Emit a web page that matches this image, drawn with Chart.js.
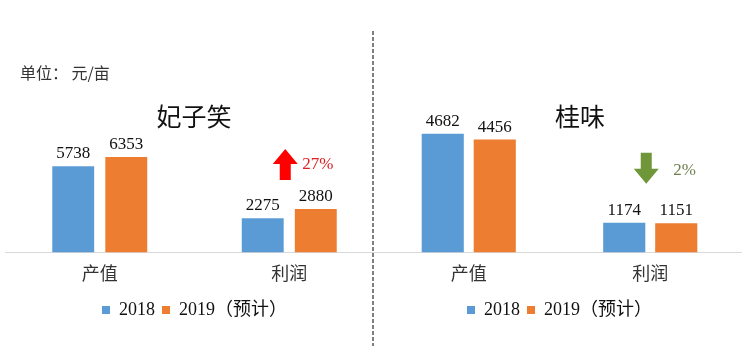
<!DOCTYPE html>
<html>
<head>
<meta charset="utf-8">
<script src="https://cdn.jsdelivr.net/npm/chart.js@4.4.1/dist/chart.umd.min.js"></script>
<style>
  body { margin: 0; background: #fff; }
  #wrap { position: relative; width: 750px; height: 359px; overflow: hidden; font-family: "Noto Sans CJK SC", sans-serif; }
  #leftBox { position: absolute; left: 0; top: 0; width: 390px; height: 359px; }
  #rightBox { position: absolute; left: 374px; top: 0; width: 376px; height: 359px; }
  .unit { position: absolute; left: 20px; top: 60px; font-size: 16px; color: #333; }
  .title { position: absolute; top: 97px; font-size: 25px; color: #111; transform: translateX(-50%); white-space: nowrap; }
  svg.divider { position: absolute; left: 0; top: 0; }
</style>
</head>
<body>
<div id="wrap">
  <div id="leftBox"><canvas id="chartLeft"></canvas></div>
  <div id="rightBox"><canvas id="chartRight"></canvas></div>
  <div class="unit">单位：&nbsp;元/亩</div>
  <div class="title" style="left:194px">妃子笑</div>
  <div class="title" style="left:580px">桂味</div>
  <svg class="divider" width="750" height="359">
    <line x1="373" y1="31" x2="373" y2="346" stroke="#7f7f7f" stroke-width="2" stroke-dasharray="4 2"/>
  </svg>
</div>
<script>
const categories = ['产值', '利润'];
const seriesNames = ['2018', '2019（预计）'];
const fzx2018 = [5738, 2275];
const fzx2019 = [6353, 2880];
const gw2018 = [4682, 1174];
const gw2019 = [4456, 1151];
const fzxChange = '27%';
const gwChange = '2%';

const blue = '#5B9BD5';
const orange = '#ED7D31';

// value labels on top of bars + up/down arrow over 利润
const decorPlugin = {
    id: 'decor',
    afterDatasetsDraw(chart, args, opts) {
        const ctx = chart.ctx;
        ctx.save();
        ctx.font = '17px "Liberation Serif", serif';
        ctx.fillStyle = '#111';
        ctx.textAlign = 'center';
        ctx.textBaseline = 'bottom';
        chart.data.datasets.forEach(function (ds, i) {
            chart.getDatasetMeta(i).data.forEach(function (bar, j) {
                ctx.fillText(ds.data[j], bar.x, bar.y - 4);
            });
        });

        // arrow
        const x = chart.scales.x.getPixelForValue(1) + opts.dx;
        const top = Math.min(chart.getDatasetMeta(0).data[1].y, chart.getDatasetMeta(1).data[1].y);
        const yb = top - opts.gap;
        const h = 31, hw = 12.5, sw = 5.5, hh = 15;
        ctx.fillStyle = opts.color;
        ctx.beginPath();
        if (opts.up) {
            ctx.moveTo(x, yb - h);
            ctx.lineTo(x + hw, yb - h + hh);
            ctx.lineTo(x + sw, yb - h + hh);
            ctx.lineTo(x + sw, yb);
            ctx.lineTo(x - sw, yb);
            ctx.lineTo(x - sw, yb - h + hh);
            ctx.lineTo(x - hw, yb - h + hh);
        } else {
            ctx.moveTo(x, yb);
            ctx.lineTo(x + hw, yb - hh);
            ctx.lineTo(x + sw, yb - hh);
            ctx.lineTo(x + sw, yb - h);
            ctx.lineTo(x - sw, yb - h);
            ctx.lineTo(x - sw, yb - hh);
            ctx.lineTo(x - hw, yb - hh);
        }
        ctx.closePath();
        ctx.fill();

        ctx.font = '17px "Liberation Serif", serif';
        ctx.fillStyle = opts.textColor;
        ctx.textAlign = 'left';
        ctx.textBaseline = 'middle';
        ctx.fillText(opts.text, x + opts.tx, yb - h / 2 + opts.ty);
        ctx.restore();
    }
};

function makeChart(el, d2018, d2019, yMax, pad, catPct, barPct, decor) {
    return new Chart(el, {
        type: 'bar',
        data: {
            labels: categories,
            datasets: [
                { label: seriesNames[0], data: d2018, backgroundColor: blue, categoryPercentage: catPct, barPercentage: barPct },
                { label: seriesNames[1], data: d2019, backgroundColor: orange, categoryPercentage: catPct, barPercentage: barPct }
            ]
        },
        options: {
            responsive: false,
            animation: false,
            layout: { padding: pad },
            scales: {
                x: {
                    grid: { display: true, drawOnChartArea: false, drawTicks: false },
                    border: { display: true, color: '#d9d9d9', width: 1 },
                    ticks: { color: '#333', padding: 10, font: { family: '"Noto Sans CJK SC"', size: 18 } }
                },
                y: { display: false, min: 0, max: yMax }
            },
            plugins: {
                legend: {
                    position: 'bottom',
                    labels: {
                        boxWidth: 8, boxHeight: 8, padding: 7, color: '#111',
                        font: { family: '"Liberation Serif", "Noto Sans CJK SC"', size: 18 }
                    }
                },
                tooltip: { enabled: false },
                decor: decor
            }
        },
        plugins: [decorPlugin]
    });
}

const cl = document.getElementById('chartLeft');
cl.width = 390; cl.height = 359;
const cr = document.getElementById('chartRight');
cr.width = 376; cr.height = 359;

makeChart(cl, fzx2018, fzx2019, 12800, { top: 60, left: 5, right: 6, bottom: 30 }, 0.56, 0.79,
    { dx: -4, gap: 29, up: true, color: '#FF0000', textColor: '#E02020', text: fzxChange, tx: 17, ty: 0 });
makeChart(cr, gw2018, gw2019, 7600, { top: 60, left: 4, right: 9, bottom: 30 }, 0.573, 0.81,
    { dx: -4, gap: 39, up: false, color: '#70963A', textColor: '#6E8050', text: gwChange, tx: 27, ty: 2 });
</script>
</body>
</html>
